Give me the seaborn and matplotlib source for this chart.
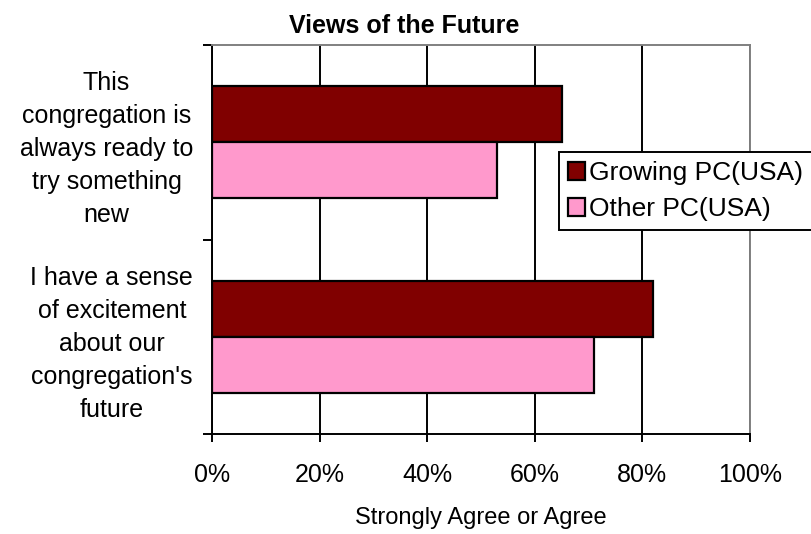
import pandas as pd
import seaborn as sns
import matplotlib.pyplot as plt
from matplotlib.ticker import FixedLocator

# ---- data ----
categories = [
    "This\ncongregation is\nalways ready to\ntry something\nnew",
    "I have a sense\nof excitement\nabout our\ncongregation's\nfuture",
]
series = ["Growing PC(USA)", "Other PC(USA)"]
growing = [65, 82]
other = [53, 71]
colors = ["#800000", "#FF99CC"]
x_ticks = [0, 20, 40, 60, 80, 100]

df = pd.DataFrame({
    "category": categories * 2,
    "series": [series[0]] * 2 + [series[1]] * 2,
    "value": growing + other,
})

sns.set_style("white")
plt.rcParams["font.family"] = ["Liberation Sans", "DejaVu Sans"]
plt.rcParams["text.color"] = "black"
plt.rcParams["axes.labelcolor"] = "black"
plt.rcParams["xtick.color"] = "black"
plt.rcParams["ytick.color"] = "black"

fig = plt.figure(figsize=(8.12, 5.34), dpi=100)
ax = fig.add_axes([212 / 812, (534 - 434) / 534, 538 / 812, 389 / 534])

sns.barplot(
    data=df, y="category", x="value", hue="series", order=categories,
    hue_order=series, palette=colors, saturation=1, orient="h", width=0.575,
    edgecolor="black", linewidth=1.6, ax=ax, legend=True,
)

ax.set_xlim(0, 100)
ax.set_ylim(1.5, -0.5)
ax.set_xticks(x_ticks)
ax.set_xticklabels([f"{t}%" for t in x_ticks], fontsize=18)
ax.xaxis.grid(True, color="black", linewidth=1.4)
ax.set_axisbelow(True)

# category boundary ticks as major, labels on minor
ax.yaxis.set_major_locator(FixedLocator([-0.5, 0.5, 1.5]))
ax.yaxis.set_major_formatter(plt.NullFormatter())
ax.yaxis.set_minor_locator(FixedLocator([0, 1]))
ax.set_yticklabels(categories, minor=True, fontsize=18, linespacing=1.47,
                   multialignment="center")
ax.tick_params(axis="y", which="minor", length=0, pad=13.5)
ax.tick_params(axis="y", which="major", length=6.5, width=1.4,
               direction="out", left=True)
ax.tick_params(axis="x", length=6, width=1.4, direction="out",
               bottom=True, pad=15)

for side in ["left", "bottom"]:
    ax.spines[side].set_color("black")
    ax.spines[side].set_linewidth(1.4)
for side in ["top", "right"]:
    ax.spines[side].set_color("#808080")
    ax.spines[side].set_linewidth(1.4)

ax.set_ylabel("")
ax.set_xlabel("Strongly Agree or Agree", fontsize=17, labelpad=14)

leg = ax.legend(
    loc="upper left", bbox_to_anchor=(559 / 812, (534 - 152) / 534),
    bbox_transform=fig.transFigure, fontsize=19, frameon=True,
    fancybox=False, framealpha=1, edgecolor="black", borderaxespad=0,
    handlelength=0.65, handleheight=0.65, handletextpad=0.15,
    borderpad=0.35, labelspacing=0.45,
)
leg.get_frame().set_linewidth(1.4)

fig.text(404 / 812, 1 - 26 / 534, "Views of the Future", fontsize=18,
         fontweight="bold", ha="center", va="center")

fig.savefig("out.png", dpi=100)
